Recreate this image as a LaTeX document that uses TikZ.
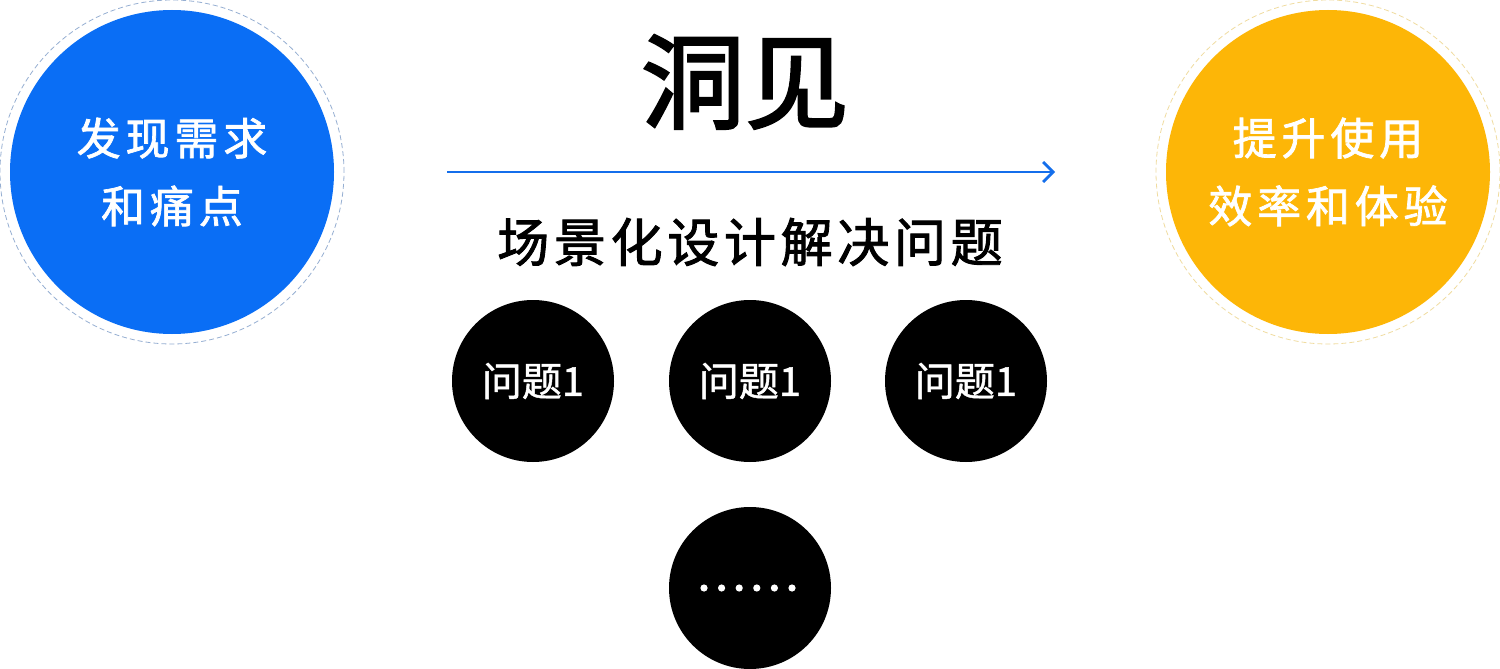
\documentclass[tikz,border=0pt]{standalone}
\usepackage{fontspec}
\usetikzlibrary{arrows.meta}
\newfontfamily\cjk{Noto Sans CJK SC}[FakeBold=1.2]
\newfontfamily\cjktitle{Noto Sans CJK SC}[FakeBold=2.2]
\newfontfamily\cjkwide{Noto Sans CJK SC}[LetterSpace=11,FakeBold=1.6]
\newfontfamily\cjksub{Noto Sans CJK SC}[LetterSpace=9,FakeBold=1.8]
\definecolor{cblue}{RGB}{10,110,245}
\definecolor{cyellow}{RGB}{253,182,7}
\definecolor{dblue}{RGB}{150,175,210}
\definecolor{dyellow}{RGB}{240,220,160}
\definecolor{arrowblue}{RGB}{20,110,235}
\begin{document}
\begin{tikzpicture}[x=1pt,y=-1pt,
  bigcirc/.style={circle,minimum size=324pt,inner sep=0pt,text=white,align=center,font=\cjkwide\fontsize{44}{68}\selectfont},
  ring/.style={circle,draw,dashed,dash pattern=on 5pt off 3pt,line width=0.8pt,minimum size=344pt,inner sep=0pt},
  qcirc/.style={circle,fill=black,minimum size=162pt,inner sep=0pt,text=white,font=\cjk\fontsize{40}{44}\selectfont}]
\useasboundingbox (0,0) rectangle (1500,669);
\fill[white] (0,0) rectangle (1500,669);
% left
\node[ring,draw=dblue] (lring) at (172,172) {};
\node[bigcirc,fill=cblue] (left) at (172,172) {发现需求\\和痛点};
% right
\node[ring,draw=dyellow] (rring) at (1328,172) {};
\node[bigcirc,fill=cyellow] (right) at (1328,172) {提升使用\\效率和体验};
% title
\node[font=\cjktitle\fontsize{104}{108}\selectfont] (title) at (745,82) {洞见};
\coordinate (as) at (447,172);
\coordinate (ae) at (1055,172);
\draw[arrowblue,line width=2.8pt,-{Straight Barb[length=10pt,width=20pt,line width=2.8pt]}] (as) -- (ae);
\node[font=\cjksub\fontsize{52}{56}\selectfont] (sub) at (750,242) {场景化设计解决问题};
% problems
\node[qcirc] (q1) at (533,381) {问题1};
\node[qcirc] (q2) at (750,381) {问题1};
\node[qcirc] (q3) at (966,381) {问题1};
\node[qcirc] (q4) at (750,588) {};
\foreach \i in {0,...,5} {\fill[white] (704+\i*17.6,588) circle (3.6pt);}
\end{tikzpicture}
\end{document}
